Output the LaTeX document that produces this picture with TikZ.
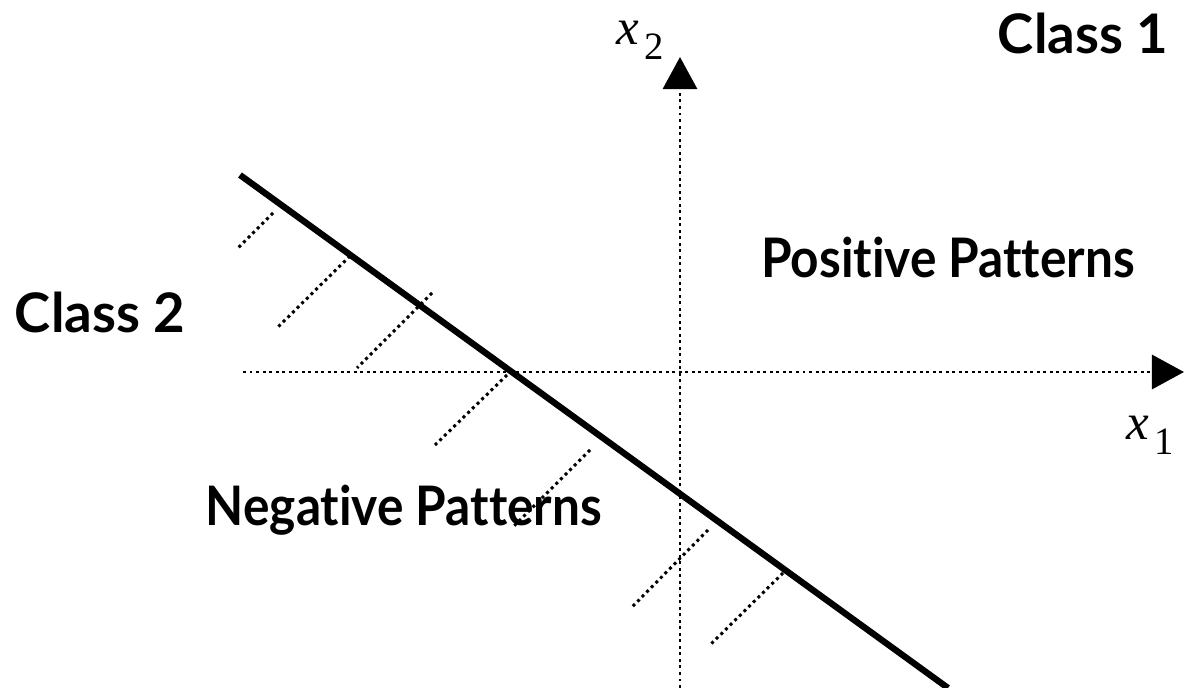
\documentclass[tikz,border=0pt]{standalone}
\usepackage{fontspec}
\setmainfont{Liberation Serif}
\newfontfamily\labelfont[BoldFont={Lato Bold},Ligatures=NoCommon]{Lato}
\usetikzlibrary{arrows.meta}

\begin{document}
\begin{tikzpicture}[x=0.01cm,y=-0.01cm,
  dots/.style={line width=0.85pt,dash pattern=on 0.85pt off 1pt},
  axis/.style={dots,-{Triangle[length=3.2mm,width=3.4mm]}},
  classlab/.style={font=\labelfont\bfseries\fontsize{15.5}{18}\selectfont,inner sep=0pt},
  patlab/.style={classlab,transform shape,xscale=0.91},
  axislab/.style={font=\fontsize{14.5}{17}\selectfont\itshape,inner sep=0pt}]
  \useasboundingbox (0,0) rectangle (1184,688);
  % axes
  \draw[axis] (243,372) -- (1184,372);
  \draw[axis] (680,688) -- (680,57);
  \node[axislab] (xone) at (1150,435) {x\kern1.5pt\raisebox{-4.3pt}{\upshape\fontsize{11}{12}\selectfont 1}};
  \node[axislab] (xtwo) at (640,40) {x\kern1.5pt\raisebox{-4.3pt}{\upshape\fontsize{11}{12}\selectfont 2}};
  % decision line
  \draw[line width=1.8pt] (240,175) -- (948,688);
  % hatching
  \foreach \xa/\ya/\xb/\yb in {273/213/237/249,350/256/277/328,432/293/357/368,507/375/435/445,590/450/513/527,708/530/632/607,783/573/710/645}{
    \draw[dots] (\xa,\ya) -- (\xb,\yb);
  }
  % labels
  \node[classlab] (classone) at (1083,33) {Class 1};
  \node[classlab] (classtwo) at (100,312) {Class 2};
  \node[patlab] (pos) at (948,258) {Positive Patterns};
  \node[patlab] (neg) at (404,510) {Negative Patterns};
\end{tikzpicture}
\end{document}
